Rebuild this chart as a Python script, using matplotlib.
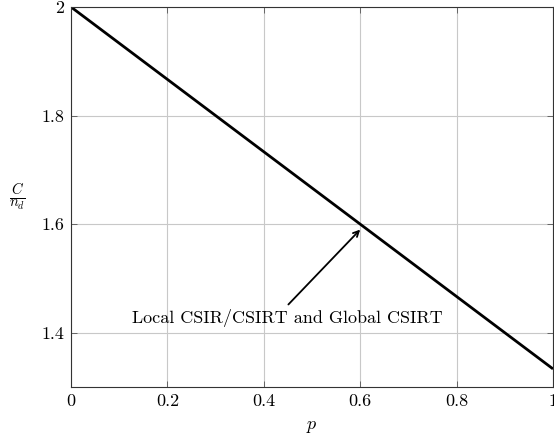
import matplotlib
matplotlib.use("Agg")
import matplotlib.pyplot as plt
import numpy as np

p = [0.0, 1.0]
ratio = [2.0, 4.0 / 3.0]
xticks = [0, 0.2, 0.4, 0.6, 0.8, 1]
xticklabels = ["0", "0.2", "0.4", "0.6", "0.8", "1"]
yticks = [1.4, 1.6, 1.8, 2.0]
yticklabels = ["1.4", "1.6", "1.8", "2"]
label_text = "Local CSIR/CSIRT and Global CSIRT"

plt.rcParams['font.family'] = ['cmr10', 'DejaVu Serif']
plt.rcParams['mathtext.fontset'] = 'cm'
plt.rcParams['axes.unicode_minus'] = False

fig = plt.figure(figsize=(5.54, 4.36), dpi=100)
ax = fig.add_axes([71/554, 49/436, 482/554, 380/436])
ax.plot(p, ratio, color='black', lw=2.0, solid_capstyle='butt')
ax.set_xlim(0, 1)
ax.set_ylim(1.3, 2.0)
ax.set_xticks(xticks)
ax.set_xticklabels(xticklabels)
ax.set_yticks(yticks)
ax.set_yticklabels(yticklabels)
ax.grid(True, color='#c8c8c8', lw=0.8)
ax.set_axisbelow(True)
ax.tick_params(direction='in', length=4, width=0.6, color='#555555', labelsize=13,
               top=True, right=True, pad=5)
for s in ax.spines.values():
    s.set_color('#333333')
    s.set_linewidth(0.8)
ax.set_xlabel(r'$p$', fontsize=13)
ax.xaxis.set_label_coords(0.5, -0.085)
ax.set_ylabel(r'$\frac{C}{n_d}$', fontsize=15, rotation=0, va='center', ha='center')
ax.yaxis.set_label_coords(-0.11, 0.5)
ax.text(0.448, 1.428, label_text, ha='center', va='center', fontsize=13)
ax.annotate('', xy=(0.6, 1.59), xytext=(0.451, 1.452),
            arrowprops=dict(arrowstyle='->', color='black', lw=1.3,
                            shrinkA=0, shrinkB=0))
fig.savefig('out.png', dpi=100)
